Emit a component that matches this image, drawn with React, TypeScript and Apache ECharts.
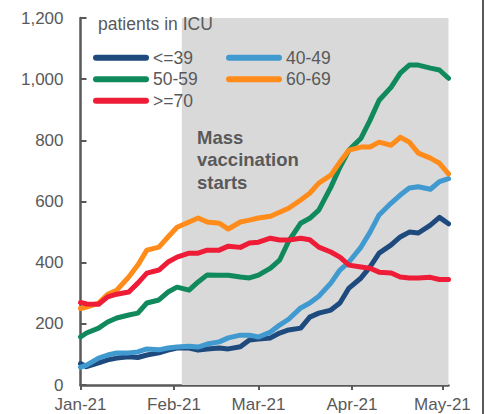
import React, { useEffect, useRef } from "react";
import * as echarts from "echarts";

// day index from 1 Jan 2021
const days = [0, 2, 6, 9, 12, 16, 19, 22, 26, 29, 32, 36, 39, 42, 46, 49, 53, 56, 59, 63, 66, 69, 73, 76, 79, 83, 86, 89, 93, 96, 99, 103, 106, 109, 112, 116, 119, 122];

const under39 = [70, 60, 72, 82, 88, 92, 90, 98, 105, 114, 121, 121, 114, 118, 121, 118, 125, 147, 150, 154, 170, 180, 186, 222, 235, 245, 268, 317, 350, 386, 431, 458, 484, 500, 497, 523, 548, 527];
const age40to49 = [58, 65, 88, 98, 105, 105, 108, 118, 115, 121, 124, 127, 124, 134, 141, 154, 163, 163, 157, 173, 196, 215, 252, 268, 290, 333, 376, 402, 451, 500, 556, 595, 621, 644, 648, 640, 665, 675];
const age50to59 = [157, 170, 186, 206, 219, 229, 235, 268, 278, 304, 320, 310, 337, 360, 359, 359, 353, 350, 359, 382, 408, 470, 529, 545, 572, 647, 712, 768, 807, 866, 931, 974, 1020, 1046, 1046, 1036, 1030, 1003];
const age60to69 = [250, 255, 268, 297, 310, 353, 392, 441, 451, 484, 516, 533, 546, 533, 529, 510, 533, 539, 546, 552, 565, 578, 605, 627, 660, 686, 729, 768, 778, 778, 794, 784, 810, 794, 758, 742, 725, 690];
const over70 = [270, 265, 264, 288, 297, 304, 333, 366, 376, 402, 418, 431, 431, 441, 441, 454, 450, 464, 467, 480, 474, 474, 480, 475, 451, 435, 418, 392, 386, 382, 369, 366, 353, 350, 350, 352, 345, 345];

const monthDays = [0, 31, 59, 90, 120];
const monthLabels = ["Jan-21", "Feb-21", "Mar-21", "Apr-21", "May-21"];

const seriesNames = ["<=39", "40-49", "50-59", "60-69", ">=70"];
const seriesColors = ["#1f4a7e", "#409ad0", "#108a5c", "#ff8c1a", "#ee1c36"];

const vaccinationStart = 33.6;
const vaccinationEnd = 122;

const GREY = "#595959";
const FONT = "Liberation Sans, Arial, sans-serif";
const CAPSULE = "path://M3,0 L53,0 A3,3 0 0 1 53,6 L3,6 A3,3 0 0 1 3,0 Z";

export default function App() {
  const ref = useRef<HTMLDivElement>(null);

  useEffect(() => {
    if (!ref.current) return;
    const chart = echarts.init(ref.current, null, { renderer: "svg" });
    const allValues = [under39, age40to49, age50to59, age60to69, over70];

    const series: any[] = allValues.map((vals, i) => ({
      name: seriesNames[i],
      type: "line",
      data: vals.map((v, j) => [days[j], v]),
      showSymbol: false,
      symbol: "none",
      lineStyle: { width: 5, color: seriesColors[i], cap: "round", join: "round" },
      itemStyle: { color: seriesColors[i] },
      z: 3 + i,
    }));
    series[0].markArea = {
      silent: true,
      itemStyle: { color: "#d9d9d9" },
      data: [[{ xAxis: vaccinationStart }, { xAxis: vaccinationEnd }]],
    };

    const legendCommon = {
      orient: "vertical",
      padding: 0,
      itemGap: 0,
      itemWidth: 56,
      itemHeight: 6,
      icon: CAPSULE,
      textStyle: { color: GREY, fontSize: 17.5, fontFamily: FONT, lineHeight: 21.5, padding: [0, 0, 0, -1] },
    };

    chart.setOption({
      animation: false,
      textStyle: { fontFamily: FONT },
      grid: { left: 80.5, right: 38.5, top: 18, bottom: 29 },
      xAxis: {
        type: "value",
        min: 0,
        max: 122,
        axisLine: { show: true, lineStyle: { color: GREY, width: 2.5 } },
        axisTick: { show: true, length: 5, lineStyle: { color: GREY, width: 2 }, customValues: monthDays },
        axisLabel: {
          color: GREY,
          fontSize: 17,
          fontFamily: FONT,
          margin: 11,
          customValues: monthDays,
          hideOverlap: false,
          showMinLabel: true,
          showMaxLabel: true,
          formatter: (v: number) => {
            const k = monthDays.indexOf(Math.round(v));
            return k >= 0 ? monthLabels[k] : "";
          },
        },
        splitLine: { show: false },
      },
      yAxis: {
        type: "value",
        min: 0,
        max: 1200,
        interval: 200,
        axisLine: { show: true, lineStyle: { color: GREY, width: 2.5 } },
        axisTick: { show: true, inside: true, length: 6, lineStyle: { color: GREY, width: 2 } },
        axisLabel: {
          color: GREY,
          fontSize: 17,
          fontFamily: FONT,
          margin: 17,
          formatter: (v: number) => v.toLocaleString("en-US"),
        },
        splitLine: { show: false },
      },
      legend: [
        { ...legendCommon, left: 93, top: 47, data: ["<=39", "50-59", ">=70"] },
        { ...legendCommon, left: 226, top: 47, data: ["40-49", "60-69"] },
      ],
      graphic: [
        {
          type: "text",
          left: 98,
          top: 15,
          style: { text: "patients in ICU", fill: GREY, font: `17.5px ${FONT}` },
          z: 100,
        },
        {
          type: "text",
          x: 197,
          y: 126,
          style: {
            text: "Mass\nvaccination\nstarts",
            fill: GREY,
            font: `bold 18.5px ${FONT}`,
            lineHeight: 22.5,
          },
          z: 100,
        },
        {
          type: "rect",
          shape: { x: 482, y: 0, width: 2, height: 414 },
          style: { fill: GREY },
          z: 100,
        },
      ],
      series,
    });
    return () => chart.dispose();
  }, []);

  return <div ref={ref} style={{ width: 487, height: 414, position: "absolute", left: 0, top: 0 }} />;
}
